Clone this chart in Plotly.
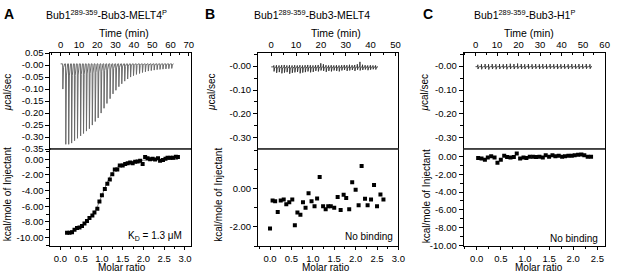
import plotly.graph_objects as go

W, H = 617, 278
FONT = "Liberation Sans, Arial, Helvetica, sans-serif"

# ---------------- data ----------------
# Panel A raw thermogram: injection times (min) and peak heat rates (ucal/sec)
a_inj_time = [1.0, 2.6, 4.2, 5.8, 7.4, 9.0, 10.7, 12.3, 13.9, 15.5, 17.1, 18.7, 20.3, 21.9,
              23.5, 25.1, 26.8, 28.4, 30.0, 31.6, 33.2, 34.8, 36.4, 38.0, 39.6, 41.2, 42.9,
              44.5, 46.1, 47.7, 49.3, 50.9, 52.5, 54.1, 55.7, 57.3, 58.9, 60.5]
a_peak = [-0.10, -0.33, -0.33, -0.325, -0.315, -0.305, -0.295, -0.285, -0.275, -0.265, -0.25,
          -0.235, -0.22, -0.20, -0.18, -0.16, -0.14, -0.12, -0.105, -0.09, -0.078, -0.067,
          -0.058, -0.05, -0.044, -0.039, -0.035, -0.031, -0.028, -0.025, -0.023, -0.021,
          -0.019, -0.018, -0.017, -0.016, -0.015, -0.014]
a_baseline = 0.005

# Panel A integrated heats
a_ratio = [0.16, 0.22, 0.28, 0.34, 0.40, 0.46, 0.52, 0.58, 0.64, 0.70, 0.77, 0.82, 0.89, 0.94,
           1.00, 1.07, 1.13, 1.19, 1.25, 1.31, 1.37, 1.43, 1.50, 1.56, 1.62, 1.68, 1.74, 1.80,
           1.86, 1.92, 1.98, 2.04, 2.10, 2.16, 2.22, 2.28, 2.35, 2.40, 2.47, 2.53, 2.58, 2.65,
           2.71, 2.78, 2.83]
a_heat = [-9.4, -9.4, -9.32, -9.0, -8.8, -8.72, -8.52, -8.2, -7.88, -7.52, -7.2, -6.8, -6.32,
          -5.4, -4.6, -3.8, -3.12, -2.6, -1.92, -1.32, -1.32, -0.8, -0.8, -0.6, -0.52, -0.4,
          -0.52, -0.32, -0.28, -0.2, -0.6, 0.28, 0.12, 0.0, 0.08, -0.04, 0.12, -0.2, -0.08,
          0.08, 0.2, 0.2, 0.2, 0.32, 0.28]
a_fit_ratio = [0.16, 0.3, 0.45, 0.6, 0.7, 0.8, 0.9, 1.0, 1.1, 1.2, 1.3, 1.4, 1.5, 1.7, 2.0, 2.4, 2.83]
a_fit_heat = [-9.35, -9.1, -8.75, -8.2, -7.6, -6.9, -5.9, -4.6, -3.3, -2.2, -1.4, -0.9, -0.6,
              -0.3, -0.12, -0.04, -0.02]

# Panel B raw thermogram
b_inj_time = [1.0, 2.05, 3.1, 4.15, 5.2, 6.25, 7.3, 8.35, 9.4, 10.45, 11.5, 12.55, 13.6, 14.65,
              15.7, 16.75, 17.8, 18.85, 19.9, 20.95, 22.0, 23.05, 24.1, 25.15, 26.2, 27.25,
              28.3, 29.35, 30.4, 31.45, 32.5, 33.55, 34.6, 35.65, 36.7, 37.75, 38.8, 39.85,
              40.9, 41.95]
b_low = [-0.022, -0.028, -0.025, -0.03, -0.027, -0.025, -0.032, -0.028, -0.026, -0.024, -0.03,
         -0.027, -0.025, -0.022, -0.026, -0.024, -0.02, -0.022, -0.018, -0.02, -0.024, -0.02,
         -0.022, -0.018, -0.02, -0.022, -0.018, -0.016, -0.02, -0.018, -0.016, -0.02, -0.015,
         -0.018, -0.016, -0.014, -0.017, -0.015, -0.013, -0.014]
b_high = [0.003, 0.004, 0.003, 0.004, 0.005, 0.003, 0.004, 0.003, 0.004, 0.003, 0.004, 0.003,
          0.004, 0.005, 0.004, 0.003, 0.004, 0.005, 0.012, 0.008, 0.004, 0.003, 0.004, 0.003,
          0.004, 0.003, 0.004, 0.005, 0.004, 0.006, 0.004, 0.005, 0.008, 0.018, 0.006, 0.004,
          0.003, 0.004, 0.003, 0.003]
b_baseline = -0.003

# Panel B integrated heats
b_ratio = [0.0, 0.06, 0.12, 0.18, 0.25, 0.32, 0.38, 0.45, 0.52, 0.58, 0.64, 0.71, 0.77, 0.83,
           0.90, 0.97, 1.04, 1.10, 1.16, 1.24, 1.30, 1.36, 1.42, 1.50, 1.58, 1.65, 1.72, 1.78,
           1.85, 1.92, 2.00, 2.07, 2.14, 2.22, 2.28, 2.36, 2.43, 2.50, 2.58, 2.65]
b_heat = [-2.08, -0.62, -0.67, -1.22, -0.62, -0.58, -0.82, -0.72, -0.58, -1.92, -1.25, -1.37,
          -0.72, -1.0, -0.25, -0.67, -0.92, -0.52, 0.6, -0.92, -1.08, -0.92, -0.92, -1.0, -0.45,
          -1.12, -0.33, -0.5, -1.08, 0.33, -0.07, -0.87, 1.17, -0.53, -0.87, -0.58, 0.18, -0.92,
          -0.32, -0.58]

# Panel C raw thermogram
c_inj_time = [1.0, 2.7, 4.4, 6.0, 7.7, 9.4, 11.1, 12.8, 14.4, 16.1, 17.8, 19.5, 21.2, 22.8,
              24.5, 26.2, 27.9, 29.6, 31.2, 32.9, 34.6, 36.3, 38.0, 39.6, 41.3, 43.0, 44.7,
              46.4, 48.0, 49.7, 51.4, 53.1]
c_low = [-0.012, -0.013, -0.012, -0.014, -0.012, -0.013, -0.012, -0.011, -0.013, -0.012, -0.012,
         -0.011, -0.012, -0.012, -0.011, -0.012, -0.011, -0.012, -0.011, -0.012, -0.011, -0.011,
         -0.012, -0.011, -0.011, -0.012, -0.011, -0.011, -0.012, -0.011, -0.011, -0.011]
c_high = [0.006, 0.008, 0.009, 0.008, 0.009, 0.008, 0.009, 0.008, 0.009, 0.01, 0.009, 0.011,
          0.009, 0.008, 0.009, 0.008, 0.009, 0.008, 0.009, 0.008, 0.009, 0.008, 0.009, 0.008,
          0.009, 0.008, 0.009, 0.008, 0.009, 0.008, 0.009, 0.008]
c_baseline = -0.002

# Panel C integrated heats
c_ratio = [0.03, 0.10, 0.17, 0.23, 0.30, 0.37, 0.43, 0.50, 0.57, 0.63, 0.70, 0.77, 0.83, 0.90,
           0.97, 1.03, 1.10, 1.17, 1.23, 1.30, 1.37, 1.43, 1.50, 1.57, 1.63, 1.70, 1.77, 1.83,
           1.90, 1.97, 2.03, 2.10, 2.17, 2.23, 2.30, 2.37]
c_heat = [-0.15, -0.2, -0.35, -0.1, 0.05, -0.1, -0.7, -0.35, 0.1, -0.05, -0.1, -0.05, 0.35, -0.2,
          -0.1, -0.15, 0.0, 0.0, -0.05, 0.0, -0.1, 0.15, 0.0, 0.15, 0.05, 0.1, 0.0, 0.05, 0.1,
          0.1, 0.15, 0.2, 0.25, 0.15, 0.0, 0.0]

# tick labels
a_raw_tickvals = [0.05, 0.0, -0.05, -0.10, -0.15, -0.20, -0.25, -0.30, -0.35]
a_raw_ticktext = ["0.05", "-0.00", "-0.05", "-0.10", "-0.15", "-0.20", "-0.25", "-0.30", "-0.35"]
bc_raw_tickvals = [0.0, -0.10, -0.20, -0.30]
bc_raw_ticktext = ["-0.00", "-0.10", "-0.20", "-0.30"]
big_heat_tickvals = [0, -2, -4, -6, -8, -10]
big_heat_ticktext = ["0.00", "-2.00", "-4.00", "-6.00", "-8.00", "-10.00"]
b_heat_tickvals = [0, -2]
b_heat_ticktext = ["0.00", "-2.00"]


def thermogram(times, lows, highs, base, width, t_end_extra=1.2):
    xs, ys = [times[0] - 1.0], [base]
    for t, lo, hi in zip(times, lows, highs):
        xs += [t, t + 0.06 * width, t + 0.16 * width, t + 0.45 * width, t + width]
        ys += [base, hi, lo, base + (lo - base) * 0.15, base]
    xs.append(times[-1] + t_end_extra)
    ys.append(base)
    return xs, ys


fig = go.Figure()

# A thermogram
ax, ay = thermogram(a_inj_time, a_peak, [a_baseline] * len(a_peak), a_baseline, 1.2)
fig.add_trace(go.Scatter(x=ax, y=ay, mode="lines", line=dict(color="#6a6a6a", width=1),
                         xaxis="x", yaxis="y", hoverinfo="skip"))
fig.add_trace(go.Scatter(x=a_fit_ratio, y=a_fit_heat, mode="lines",
                         line=dict(color="#777777", width=1, shape="spline"),
                         xaxis="x2", yaxis="y2"))
fig.add_trace(go.Scatter(x=a_ratio, y=a_heat, mode="markers",
                         marker=dict(symbol="square", size=4, color="black"),
                         xaxis="x2", yaxis="y2"))

bx, by = thermogram(b_inj_time, b_low, b_high, b_baseline, 0.9, 0.6)
fig.add_trace(go.Scatter(x=bx, y=by, mode="lines", line=dict(color="#222222", width=0.8),
                         xaxis="x3", yaxis="y3"))
fig.add_trace(go.Scatter(x=b_ratio, y=b_heat, mode="markers",
                         marker=dict(symbol="square", size=4, color="black"),
                         xaxis="x4", yaxis="y4"))

cx, cy = thermogram(c_inj_time, c_low, c_high, c_baseline, 1.0, 0.8)
fig.add_trace(go.Scatter(x=cx, y=cy, mode="lines", line=dict(color="#222222", width=0.8),
                         xaxis="x5", yaxis="y5"))
fig.add_trace(go.Scatter(x=c_ratio, y=c_heat, mode="markers",
                         marker=dict(symbol="square", size=4, color="black"),
                         xaxis="x6", yaxis="y6"))


def dx(a, b):
    return [a / W, b / W]


def dy(top, bottom):
    return [1 - bottom / H, 1 - top / H]


TF = dict(family=FONT, size=9.5, color="black")


def xax(domain, rng, anchor, side, tickvals, ticktext, minor_dtick, ticks):
    return dict(domain=domain, range=rng, anchor=anchor, side=side, showline=True,
                linecolor="black", linewidth=1, mirror=True, ticks=ticks, ticklen=3,
                tickcolor="black", tickvals=tickvals, ticktext=ticktext, tickfont=TF,
                showgrid=False, zeroline=False, fixedrange=True,
                minor=dict(dtick=minor_dtick, tick0=0, ticks=ticks, ticklen=2, tickcolor="black"))


def yax(domain, rng, anchor, tickvals, ticktext, minor_dtick=None):
    d = dict(domain=domain, range=rng, anchor=anchor, showline=True, linecolor="black",
             linewidth=1, mirror=True, ticks="outside", ticklen=4, tickcolor="black",
             tickvals=tickvals, ticktext=ticktext, tickfont=TF, showgrid=False,
             zeroline=False, fixedrange=True)
    if minor_dtick:
        d["minor"] = dict(dtick=minor_dtick, tick0=0, ticks="outside", ticklen=3,
                          tickcolor="black")
    return d


time_a = [0, 10, 20, 30, 40, 50, 60, 70]
time_b = [0, 10, 20, 30, 40, 50]
time_c = [0, 10, 20, 30, 40, 50, 60]
ratio_ab = [0, 0.5, 1.0, 1.5, 2.0, 2.5, 3.0]
ratio_c = [0, 0.5, 1.0, 1.5, 2.0, 2.5]


def lab(v):
    return [str(x) for x in v]


def rlab(v):
    return ["%.1f" % x for x in v]


TOP_A, MID, BOT = 49, 149, 250
layout = dict(
    width=W, height=H, margin=dict(l=0, r=0, t=0, b=0), showlegend=False,
    paper_bgcolor="white", plot_bgcolor="white",
    font=dict(family=FONT, color="black"),
    xaxis=xax(dx(51, 193), [-5.6, 71.1], "y", "top", time_a, lab(time_a), 5, "inside"),
    yaxis=yax(dy(TOP_A, MID), [-0.35, 0.05], "x", a_raw_tickvals, a_raw_ticktext),
    xaxis2=xax(dx(51, 193), [-0.24, 3.14], "y2", "bottom", ratio_ab, rlab(ratio_ab), 0.25, "outside"),
    yaxis2=yax(dy(MID, BOT), [-11.1, 1.3], "x2", big_heat_tickvals, big_heat_ticktext, 1),
    xaxis3=xax(dx(261, 403), [-5.3, 51.2], "y3", "top", time_b, lab(time_b), 5, "inside"),
    yaxis3=yax(dy(TOP_A, MID), [-0.348, 0.055], "x3", bc_raw_tickvals, bc_raw_ticktext, 0.05),
    xaxis4=xax(dx(261, 403), [-0.28, 3.0], "y4", "bottom", ratio_ab, rlab(ratio_ab), 0.25, "outside"),
    yaxis4=yax(dy(MID, BOT), [-3.0, 2.05], "x4", b_heat_tickvals, b_heat_ticktext, 1),
    xaxis5=xax(dx(469, 612), [-5.5, 60.2], "y5", "top", time_c, lab(time_c), 5, "inside"),
    yaxis5=yax(dy(TOP_A, MID), [-0.348, 0.055], "x5", bc_raw_tickvals, bc_raw_ticktext, 0.05),
    xaxis6=xax(dx(469, 612), [-0.27, 2.66], "y6", "bottom", ratio_c, rlab(ratio_c), 0.25, "outside"),
    yaxis6=yax(dy(MID, BOT), [-10.1, 0.85], "x6", big_heat_tickvals, big_heat_ticktext, 1),
)
fig.update_layout(**layout)

# divider lines
for x0, x1 in [(51, 193), (261, 403), (469, 612)]:
    fig.add_shape(type="line", xref="paper", yref="paper", x0=x0 / W, x1=x1 / W,
                  y0=1 - MID / H, y1=1 - MID / H, line=dict(color="#555555", width=1.6))


def ann(text, x, y, size, rot=0, xanchor="center", bold=False):
    if bold:
        text = "<b>" + text + "</b>"
    fig.add_annotation(text=text, x=x / W, y=1 - y / H, xref="paper", yref="paper",
                       showarrow=False, xanchor=xanchor, yanchor="middle", textangle=rot,
                       font=dict(family=FONT, size=size, color="black"))


# panel letters and titles
ann("A", 2, 8, 14, xanchor="left", bold=True)
ann("B", 205, 8, 14, xanchor="left", bold=True)
ann("C", 426, 8, 14, xanchor="left", bold=True)
ann("Bub1<sup>289-359</sup>-Bub3-MELT4<sup>P</sup>", 108, 9, 10.5)
ann("Bub1<sup>289-359</sup>-Bub3-MELT4", 316, 9, 10.5)
ann("Bub1<sup>289-359</sup>-Bub3-H1<sup>P</sup>", 531, 9, 10.5)

# axis titles
for cx_, t in [(125, "Time (min)"), (340, "Time (min)"), (535, "Time (min)")]:
    ann(t, cx_, 28, 10.5)
for cx_ in [123, 330, 545]:
    ann("Molar ratio", cx_, 272, 10)
ann("<i>μ</i>cal/sec", 8, 90, 10, rot=-90)
ann("<i>μ</i>cal/sec", 214, 90, 10, rot=-90)
ann("<i>μ</i>cal/sec", 429, 90, 10, rot=-90)
ann("kcal/mole of Injectant", 7, 196, 10, rot=-90)
ann("kcal/mole of Injectant", 221, 196, 10, rot=-90)
ann("kcal/mole of Injectant", 431, 198, 10, rot=-90)

# inset labels
ann("K<sub>D</sub> = 1.3 μM", 186, 239, 10, xanchor="right")
ann("No binding", 400, 240, 10, xanchor="right")
ann("No binding", 607, 242, 10, xanchor="right")

fig.write_html("out.html", config={"displayModeBar": False, "staticPlot": True},
               post_script="document.body.style.margin='0';document.body.style.overflow='hidden';")
